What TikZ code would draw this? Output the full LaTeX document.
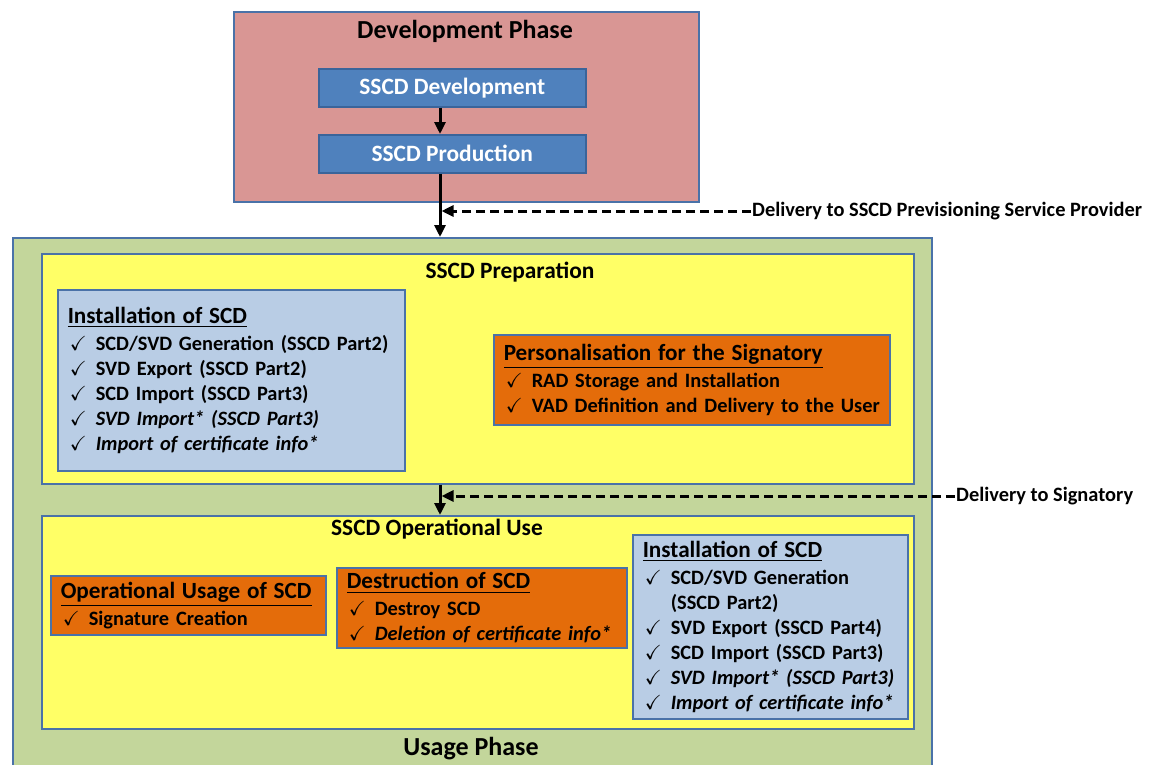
\documentclass[tikz,border=0pt]{standalone}
\usepackage{amssymb}
\usepackage{fontspec}
\setmainfont{Carlito}
\usetikzlibrary{positioning,arrows.meta}

\definecolor{devred}{HTML}{D99694}
\definecolor{stepblue}{HTML}{4F81BD}
\definecolor{stepedge}{HTML}{3A649A}
\definecolor{edgeblue}{HTML}{4A72A8}
\definecolor{usagegreen}{HTML}{C3D69B}
\definecolor{prepyellow}{HTML}{FFFF66}
\definecolor{listblue}{HTML}{B9CDE5}
\definecolor{taskorange}{HTML}{E46C0A}

\newcommand{\tick}[1]{\mbox{\makebox[28pt][l]{\hspace{2pt}$\checkmark$}#1}}
\newcommand{\boxhead}[1]{\mbox{\fontsize{23.2}{27}\selectfont\underline{#1}}}

\begin{document}
\begin{tikzpicture}[
    x=1pt, y=-1pt,
    every node/.style={font=\bfseries\fontsize{20.4}{25}\selectfont},
    panel/.style={draw=edgeblue,line width=1.5pt,anchor=north west,inner sep=0pt},
    stepbox/.style={panel,fill=stepblue,draw=stepedge,minimum width=267pt,minimum height=38pt},
    listbox/.style={panel,inner xsep=10pt,align=left},
    title/.style={font=\bfseries\fontsize{23.4}{28}\selectfont},
    phase/.style={font=\bfseries\fontsize{26}{31}\selectfont},
    flow/.style={-{Triangle[length=12pt,width=11pt]},line width=3pt},
    delivery/.style={flow,dash pattern=on 9pt off 5pt}
]
\useasboundingbox (0,0) rectangle (1156,764);

% Phase frames
\node[panel,fill=devred,minimum width=465pt,minimum height=190pt] (devphase) at (233,11) {};
\node[panel,fill=usagegreen,minimum width=919pt,minimum height=540pt] (usage) at (12,237) {};
\node[panel,fill=prepyellow,minimum width=872pt,minimum height=230pt] (prep) at (41,253) {};
\node[panel,fill=prepyellow,minimum width=872pt,minimum height=213pt] (oper) at (41,515) {};

% Titles
\node[phase] (devtitle)   at (465,31)  {Development Phase};
\node[phase] (usagetitle) at (471,749) {Usage Phase};
\node[title] (preptitle)  at (510,272) {SSCD Preparation};
\node[title] (opertitle)  at (437,529) {SSCD Operational Use};

% Development steps
\node[stepbox] (sscddev)  at (318,68)  {};
\node[stepbox] (sscdprod) at (318,134) {};
\node[title,white] at (sscddev)  {SSCD Development};
\node[title,white] at (sscdprod) {SSCD Production};

% Preparation contents
\node[listbox,fill=listblue,minimum height=181pt,text width=327pt] (prepinstall) at (57,289) {%
\boxhead{Installation of SCD}\\[2pt]
\tick{SCD/SVD Generation (SSCD Part2)}\\
\tick{SVD Export (SSCD Part2)}\\
\tick{SCD Import (SSCD Part3)}\\
\tick{\itshape SVD Import* (SSCD Part3)}\\
\tick{\itshape Import of certificate info*}};

\node[listbox,fill=taskorange,minimum height=90pt,text width=376pt] (personal) at (493,334) {%
\boxhead{Personalisation for the Signatory}\\[2pt]
\tick{RAD Storage and Installation}\\
\tick{VAD Definition and Delivery to the User}};

% Operational use contents
\node[listbox,fill=taskorange,minimum height=59pt,text width=255pt] (opusage) at (50,575) {%
\boxhead{Operational Usage of SCD}\\[2pt]
\tick{Signature Creation}};

\node[listbox,fill=taskorange,minimum height=80pt,text width=270pt] (destroy) at (336,567) {%
\boxhead{Destruction of SCD}\\[2pt]
\tick{Destroy SCD}\\
\tick{\itshape Deletion of certificate info*}};

\node[listbox,fill=listblue,minimum height=184pt,text width=255pt] (operinstall) at (632,534) {%
\boxhead{Installation of SCD}\\[2pt]
\tick{SCD/SVD Generation}\\
\hspace*{28pt}\mbox{(SSCD Part2)}\\
\tick{SVD Export (SSCD Part4)}\\
\tick{SCD Import (SSCD Part3)}\\
\tick{\itshape SVD Import* (SSCD Part3)}\\
\tick{\itshape Import of certificate info*}};

% Delivery labels
\node[anchor=west,inner sep=1pt] (toprovider)  at (751,211) {Delivery to SSCD Previsioning Service Provider};
\node[anchor=west,inner sep=1pt] (tosignatory) at (955,496) {Delivery to Signatory};

% Flow along the spine
\coordinate (spine) at (440,0);
\draw[flow] (sscddev.south -| spine) -- (sscdprod.north -| spine);
\draw[flow] (sscdprod.south -| spine) -- (usage.north -| spine);
\draw[flow] (prep.south -| spine) -- (oper.north -| spine);

% Deliveries joining the spine
\draw[delivery] (toprovider.west) -- ([xshift=1.5pt]toprovider.west -| spine);
\draw[delivery] (tosignatory.west) -- ([xshift=1.5pt]tosignatory.west -| spine);

\end{tikzpicture}
\end{document}
